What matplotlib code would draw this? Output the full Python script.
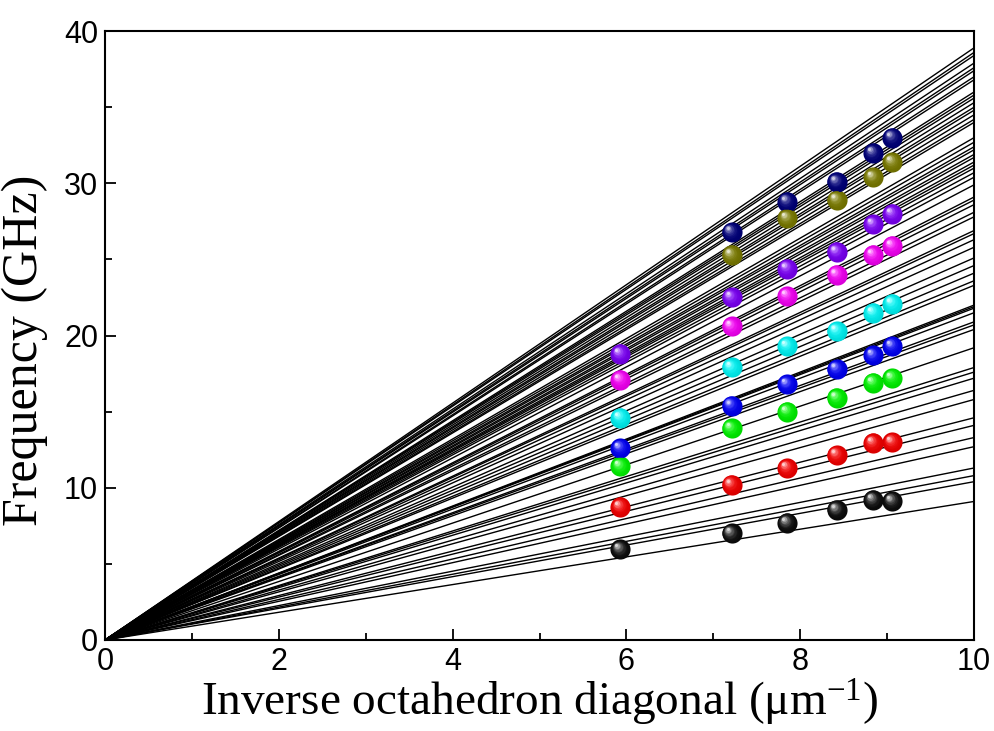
import matplotlib
matplotlib.use("Agg")
import matplotlib.pyplot as plt
import matplotlib.transforms as mtransforms
from matplotlib.colors import to_rgb
from matplotlib.ticker import MultipleLocator

plt.rcParams['mathtext.fontset'] = 'custom'
plt.rcParams['mathtext.rm'] = 'Liberation Serif'
plt.rcParams['mathtext.it'] = 'Liberation Serif:italic'

# fitted lines through origin, value at x = 10 (GHz)
fit_end = [38.9, 38.6, 38.4, 37.9, 37.6, 37.4, 37.0, 36.8, 36.0, 35.8, 35.6, 35.3,
           35.0, 34.8, 34.5, 34.2, 34.0, 33.0, 32.7, 32.4, 32.2, 31.9, 31.7, 31.4,
           31.2, 31.0, 30.7, 30.4, 29.9, 29.1, 28.9, 28.6, 28.1, 27.8, 26.9, 26.7,
           26.3, 25.8, 25.1, 24.6, 24.1, 23.6, 23.3, 22.0, 21.9, 21.8, 21.5, 20.9,
           20.7, 20.4, 19.2, 17.9, 17.6, 17.2, 16.4, 15.8, 14.6, 14.1, 13.3, 12.7,
           11.3, 10.8, 10.4, 9.1]

# measured points: inverse diagonal (um^-1)
x_pts = [5.93, 7.21, 7.85, 8.42, 8.84, 9.06]
black_f = [5.95, 7.0, 7.7, 8.55, 9.2, 9.12]
red_f = [8.75, 10.2, 11.3, 12.15, 12.95, 13.0]
green_f = [11.4, 13.9, 15.0, 15.9, 16.9, 17.2]
blue_f = [12.6, 15.4, 16.8, 17.8, 18.7, 19.3]
cyan_f = [14.6, 17.9, 19.3, 20.3, 21.5, 22.1]
magenta_f = [17.1, 20.6, 22.6, 24.0, 25.3, 25.9]
violet_f = [18.8, 22.5, 24.4, 25.5, 27.3, 28.0]
olive_f = [25.3, 27.7, 28.9, 30.4, 31.4]
navy_f = [26.8, 28.8, 30.1, 32.0, 33.0]

series = [
    (x_pts, black_f, '#000000'),
    (x_pts, red_f, '#ff0000'),
    (x_pts, green_f, '#00ff00'),
    (x_pts, blue_f, '#0000ff'),
    (x_pts, cyan_f, '#00ffff'),
    (x_pts, magenta_f, '#ff00ff'),
    (x_pts, violet_f, '#8000ff'),
    (x_pts[1:], olive_f, '#808000'),
    (x_pts[1:], navy_f, '#000080'),
]


def blend(c, target, t):
    c = to_rgb(c)
    return tuple(a + (b - a) * t for a, b in zip(c, target))


fig = plt.figure(figsize=(9.95, 7.31), dpi=100)
ax = fig.add_axes([0.1055, 0.1245, 0.8735, 0.833])

for v in fit_end:
    slope = v / 10.0
    ax.plot([0, 10], [0, 10 * slope], color='black', lw=1.0, zorder=2)

# shaded "sphere" markers: stacked circles getting lighter toward upper-left
d = 14.5
nlay = 10
for xs, ys, col in series:
    for k in range(nlay):
        t = k / (nlay - 1)
        if col == '#000000':
            c = blend('#000000', (1, 1, 1), 0.04 + 0.8 * t ** 2.5)
        else:
            c = blend(blend(col, (0, 0, 0), 0.15 * (1 - t)), (1, 1, 1), 0.8 * t ** 3)
        size = d * (1 - 0.85 * t)
        off = 0.2 * d * t
        tr = mtransforms.offset_copy(ax.transData, fig=fig, x=-off, y=off, units='points')
        ax.plot(xs, ys, 'o', ms=size, color=c, mec='none', transform=tr,
                zorder=3 + k * 0.01)

ax.set_xlim(0, 10)
ax.set_ylim(0, 40)
ax.xaxis.set_major_locator(MultipleLocator(2))
ax.xaxis.set_minor_locator(MultipleLocator(1))
ax.yaxis.set_major_locator(MultipleLocator(10))
ax.yaxis.set_minor_locator(MultipleLocator(5))
ax.tick_params(which='both', direction='in', top=False, right=False, width=1.3)
ax.tick_params(which='major', length=8, labelsize=22, pad=5)
ax.tick_params(which='minor', length=5)
for lab in ax.get_xticklabels() + ax.get_yticklabels():
    lab.set_fontfamily('Liberation Sans')
for s in ax.spines.values():
    s.set_linewidth(1.5)

ax.set_xlabel('Inverse octahedron diagonal (μm$^{-1}$)', fontfamily='Liberation Serif',
              fontsize=34, labelpad=0)
ax.set_ylabel('Frequency (GHz)', fontfamily='Liberation Serif', fontsize=36)
ax.yaxis.set_label_coords(-0.066, 0.476)

fig.savefig('out.png', dpi=100)
